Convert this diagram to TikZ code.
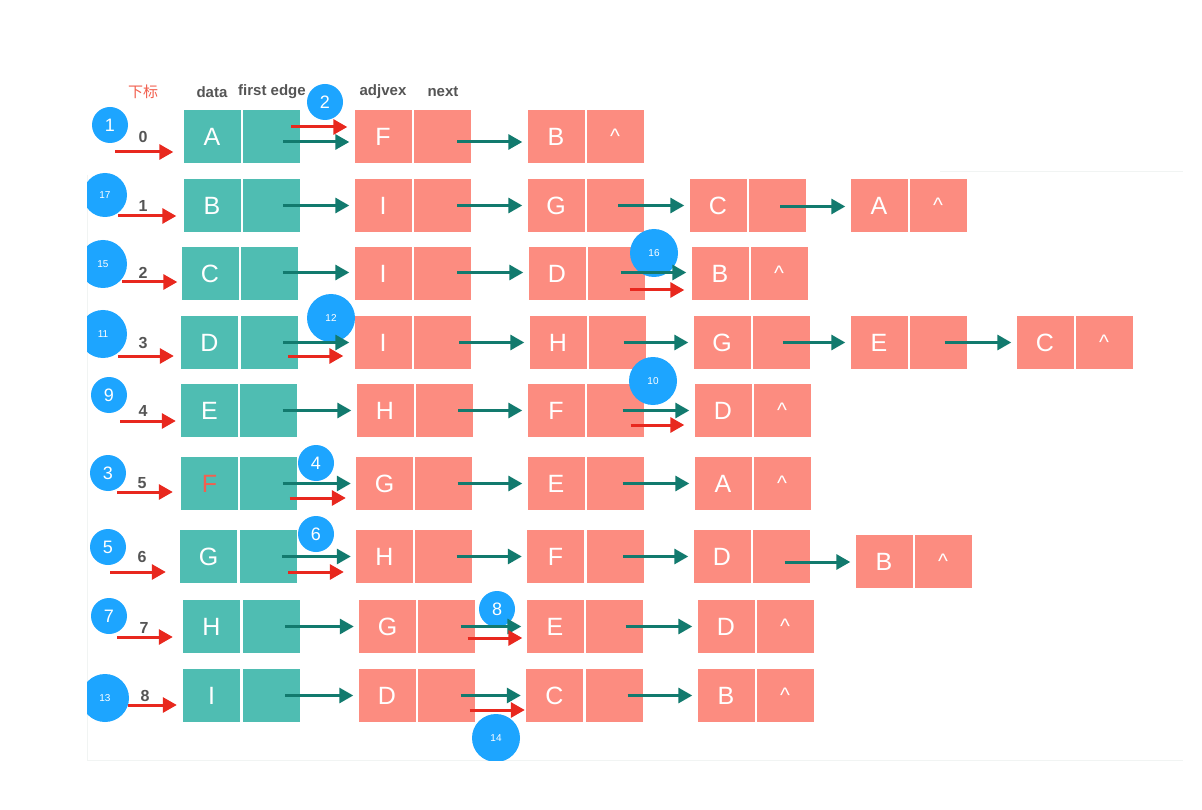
\documentclass[tikz,border=0pt]{standalone}
\usepackage{fontspec}
\setmainfont{Liberation Sans}
\newfontfamily\cjk{Noto Sans CJK SC}
\usetikzlibrary{arrows.meta}
\definecolor{tealfill}{HTML}{4FBDB2}
\definecolor{pinkfill}{HTML}{FC8C80}
\definecolor{tealarrow}{HTML}{127A6E}
\definecolor{redarrow}{HTML}{E8281E}
\definecolor{bluedot}{HTML}{1DA5FF}
\definecolor{headgray}{HTML}{555555}
\definecolor{idxred}{HTML}{F2604F}
\definecolor{faint}{HTML}{F1F4F3}
\newcommand\caretmark{{\fontsize{21}{21}\selectfont\raisebox{1pt}{\textasciicircum}}}
% teal link: from, to, xshift at start, y offset (image down positive)
\newcommand\tlink[4]{\draw[tarr] ([xshift=#3pt,yshift=-#4pt]#1.center) -- ([xshift=-5pt,yshift=-#4pt]#1.center -| #2.west);}
% red link: from, to, xshift, y offset, end gap
\newcommand\rlink[5]{\draw[rarr] ([xshift=#3pt,yshift=-#4pt]#1.center) -- ([xshift=-#5pt,yshift=-#4pt]#1.center -| #2.west);}
\begin{document}
\begin{tikzpicture}[x=1pt,y=-1pt,
  cellbase/.style={rectangle,minimum width=57pt,minimum height=53pt,inner sep=0pt,text=white,font=\fontsize{25}{25}\selectfont},
  tbox/.style={cellbase,fill=tealfill},
  pbox/.style={cellbase,fill=pinkfill},
  tarr/.style={draw=tealarrow,line width=3pt,-{Triangle[length=14pt,width=15pt]}},
  rarr/.style={draw=redarrow,line width=3pt,-{Triangle[length=14pt,width=15pt]}},
  head/.style={text=headgray,font=\bfseries\fontsize{15}{15}\selectfont,inner sep=0pt},
  idx/.style={text=headgray,font=\bfseries\fontsize{16}{16}\selectfont,inner sep=0pt},
  bigdot/.style={circle,fill=bluedot,inner sep=0pt,minimum size=36pt,text=white,font=\fontsize{18}{18}\selectfont},
  smalldot/.style={circle,fill=bluedot,inner sep=0pt,minimum size=48pt,text=white,font=\fontsize{10}{10}\selectfont}
]
\useasboundingbox (0,0) rectangle (1202,810);
\fill[white] (0,0) rectangle (1202,810);
% faint frame lines
\draw[faint,line width=0.8pt] (87,175) -- (87,760) -- (1183,760);
\draw[faint,line width=0.8pt] (940,171) -- (1183,171);

% headers
\node[text=idxred,inner sep=0pt,font=\cjk\fontsize{15}{15}\selectfont] (hidx) at (143,92) {下标};
\node[head] (hdata) at (212,92) {data};
\node[head] (hfirst) at (272,92) {first edge};
\node[head] (hadj) at (383,92) {adjvex};
\node[head] (hnext) at (443,92) {next};

% row 0
\node[tbox] (r0d) at (212,137) {A};
\node[tbox] (r0f) at (271,137) {};
\node[pbox] (r0a1) at (383,137) {F};
\node[pbox] (r0n1) at (442,137) {};
\node[pbox] (r0a2) at (556,137) {B};
\node[pbox] (r0n2) at (615,137) {\caretmark};
% row 1
\node[tbox] (r1d) at (212,205.5) {B};
\node[tbox] (r1f) at (271,205.5) {};
\node[pbox] (r1a1) at (383,205.5) {I};
\node[pbox] (r1n1) at (442,205.5) {};
\node[pbox] (r1a2) at (556,205.5) {G};
\node[pbox] (r1n2) at (615,205.5) {};
\node[pbox] (r1a3) at (718,205.5) {C};
\node[pbox] (r1n3) at (777,205.5) {};
\node[pbox] (r1a4) at (879,205.5) {A};
\node[pbox] (r1n4) at (938,205.5) {\caretmark};
% row 2
\node[tbox] (r2d) at (210,273.5) {C};
\node[tbox] (r2f) at (269.5,273.5) {};
\node[pbox] (r2a1) at (383,273.5) {I};
\node[pbox] (r2n1) at (442,273.5) {};
\node[pbox] (r2a2) at (557,273.5) {D};
\node[pbox] (r2n2) at (616.5,273.5) {};
\node[pbox] (r2a3) at (720,273.5) {B};
\node[pbox] (r2n3) at (779,273.5) {\caretmark};
% row 3
\node[tbox] (r3d) at (209.5,342.5) {D};
\node[tbox] (r3f) at (269,342.5) {};
\node[pbox] (r3a1) at (383,342.5) {I};
\node[pbox] (r3n1) at (442,342.5) {};
\node[pbox] (r3a2) at (558,342.5) {H};
\node[pbox] (r3n2) at (617.5,342.5) {};
\node[pbox] (r3a3) at (722,342.5) {G};
\node[pbox] (r3n3) at (781.5,342.5) {};
\node[pbox] (r3a4) at (879,342.5) {E};
\node[pbox] (r3n4) at (938.5,342.5) {};
\node[pbox] (r3a5) at (1045,342.5) {C};
\node[pbox] (r3n5) at (1104,342.5) {\caretmark};
% row 4
\node[tbox] (r4d) at (209.5,410.5) {E};
\node[tbox] (r4f) at (268.5,410.5) {};
\node[pbox] (r4a1) at (385,410.5) {H};
\node[pbox] (r4n1) at (444,410.5) {};
\node[pbox] (r4a2) at (556,410.5) {F};
\node[pbox] (r4n2) at (615.5,410.5) {};
\node[pbox] (r4a3) at (723,410.5) {D};
\node[pbox] (r4n3) at (782,410.5) {\caretmark};
% row 5
\node[tbox,text=idxred] (r5d) at (209.5,483.5) {F};
\node[tbox] (r5f) at (268.5,483.5) {};
\node[pbox] (r5a1) at (384.5,483.5) {G};
\node[pbox] (r5n1) at (443.5,483.5) {};
\node[pbox] (r5a2) at (556,483.5) {E};
\node[pbox] (r5n2) at (615.5,483.5) {};
\node[pbox] (r5a3) at (723,483.5) {A};
\node[pbox] (r5n3) at (782,483.5) {\caretmark};
% row 6
\node[tbox] (r6d) at (208.5,556.5) {G};
\node[tbox] (r6f) at (268,556.5) {};
\node[pbox] (r6a1) at (384.5,556.5) {H};
\node[pbox] (r6n1) at (443.5,556.5) {};
\node[pbox] (r6a2) at (555.5,556.5) {F};
\node[pbox] (r6n2) at (615,556.5) {};
\node[pbox] (r6a3) at (722,556.5) {D};
\node[pbox] (r6n3) at (781.5,556.5) {};
\node[pbox] (r6a4) at (884,561.5) {B};
\node[pbox] (r6n4) at (943,561.5) {\caretmark};
% row 7
\node[tbox] (r7d) at (211.5,626.5) {H};
\node[tbox] (r7f) at (271,626.5) {};
\node[pbox] (r7a1) at (387.5,626.5) {G};
\node[pbox] (r7n1) at (446.5,626.5) {};
\node[pbox] (r7a2) at (555,626.5) {E};
\node[pbox] (r7n2) at (614.5,626.5) {};
\node[pbox] (r7a3) at (726,626.5) {D};
\node[pbox] (r7n3) at (785,626.5) {\caretmark};
% row 8
\node[tbox] (r8d) at (211.5,695.5) {I};
\node[tbox] (r8f) at (271,695.5) {};
\node[pbox] (r8a1) at (387,695.5) {D};
\node[pbox] (r8n1) at (446.5,695.5) {};
\node[pbox] (r8a2) at (554.5,695.5) {C};
\node[pbox] (r8n2) at (614.5,695.5) {};
\node[pbox] (r8a3) at (726,695.5) {B};
\node[pbox] (r8n3) at (785,695.5) {\caretmark};

% index digits
\node[idx] (i0t) at (143,137) {0};
\node[idx] (i1t) at (143,206) {1};
\node[idx] (i2t) at (143,273) {2};
\node[idx] (i3t) at (143,343) {3};
\node[idx] (i4t) at (143,411) {4};
\node[idx] (i5t) at (142,483) {5};
\node[idx] (i6t) at (142,557) {6};
\node[idx] (i7t) at (144,628) {7};
\node[idx] (i8t) at (145,696) {8};

% blue order circles (clipped by the panel frame)
\begin{scope}
\clip (87,0) rectangle (1202,760);
\node[bigdot] (c1) at (110,125) {1};
\node[bigdot] (c2) at (325,102) {2};
\node[smalldot,minimum size=44pt] (c17) at (105,195) {17};
\node[smalldot] (c15) at (103,264) {15};
\node[smalldot] (c11) at (103,334) {11};
\node[smalldot] (c12) at (331,318) {12};
\node[bigdot] (c9) at (109,395) {9};
\node[bigdot] (c3) at (108,473) {3};
\node[bigdot] (c4) at (316,463) {4};
\node[bigdot] (c5) at (108,547) {5};
\node[bigdot] (c6) at (316,534) {6};
\node[bigdot] (c7) at (109,616) {7};
\node[smalldot] (c13) at (105,698) {13};
\node[bigdot] (c8) at (497,609) {8};
\node[smalldot] (c14) at (496,738) {14};
\node[smalldot] (c16) at (654,253) {16};
\node[smalldot] (c10) at (653,381) {10};
\end{scope}

% index arrows
\coordinate (s0) at (115,152);
\coordinate (s1) at (118,216);
\coordinate (s2) at (122,282);
\coordinate (s3) at (118,356);
\coordinate (s4) at (120,421);
\coordinate (s5) at (117,492);
\coordinate (s6) at (110,572);
\coordinate (s7) at (117,637);
\coordinate (s8) at (128,705);
\draw[rarr] (s0) -- ([xshift=-10pt]s0 -| r0d.west);
\draw[rarr] (s1) -- ([xshift=-7pt]s1 -| r1d.west);
\draw[rarr] (s2) -- ([xshift=-4pt]s2 -| r2d.west);
\draw[rarr] (s3) -- ([xshift=-7pt]s3 -| r3d.west);
\draw[rarr] (s4) -- ([xshift=-5pt]s4 -| r4d.west);
\draw[rarr] (s5) -- ([xshift=-8pt]s5 -| r5d.west);
\draw[rarr] (s6) -- ([xshift=-14pt]s6 -| r6d.west);
\draw[rarr] (s7) -- ([xshift=-10pt]s7 -| r7d.west);
\draw[rarr] (s8) -- ([xshift=-6pt]s8 -| r8d.west);

% teal links
\tlink{r0f}{r0a1}{12}{5}
\tlink{r0n1}{r0a2}{15}{5}
\tlink{r1f}{r1a1}{12}{0}
\tlink{r1n1}{r1a2}{15}{0}
\tlink{r1n2}{r1a3}{3}{0}
\tlink{r1n3}{r1a4}{3}{1}
\tlink{r2f}{r2a1}{13}{-1}
\tlink{r2n1}{r2a2}{15}{-1}
\tlink{r2n2}{r2a3}{4}{-1}
\tlink{r3f}{r3a1}{14}{0}
\tlink{r3n1}{r3a2}{17}{0}
\tlink{r3n2}{r3a3}{6}{0}
\tlink{r3n3}{r3a4}{1}{0}
\tlink{r3n4}{r3a5}{6}{0}
\tlink{r4f}{r4a1}{14}{0}
\tlink{r4n1}{r4a2}{14}{0}
\tlink{r4n2}{r4a3}{7}{0}
\tlink{r5f}{r5a1}{14}{0}
\tlink{r5n1}{r5a2}{14}{0}
\tlink{r5n2}{r5a3}{7}{0}
\tlink{r6f}{r6a1}{14}{0}
\tlink{r6n1}{r6a2}{13}{0}
\tlink{r6n2}{r6a3}{8}{0}
\tlink{r6n3}{r6a4}{3}{5.5}
\tlink{r7f}{r7a1}{14}{0}
\tlink{r7n1}{r7a2}{14}{0}
\tlink{r7n2}{r7a3}{11}{0}
\tlink{r8f}{r8a1}{14}{0}
\tlink{r8n1}{r8a2}{14}{0}
\tlink{r8n2}{r8a3}{13}{0}

% red traversal links
\rlink{r0f}{r0a1}{20}{-10}{7}
\rlink{r2n2}{r2a3}{13}{16.5}{7}
\rlink{r3f}{r3a1}{19}{13.5}{11}
\rlink{r4n2}{r4a3}{15}{14.5}{10}
\rlink{r5f}{r5a1}{21}{14.5}{10}
\rlink{r6f}{r6a1}{20}{15.5}{12}
\rlink{r7n1}{r7a2}{21}{11.5}{4}
\rlink{r8n1}{r8a2}{23}{14.5}{1}
\end{tikzpicture}
\end{document}
